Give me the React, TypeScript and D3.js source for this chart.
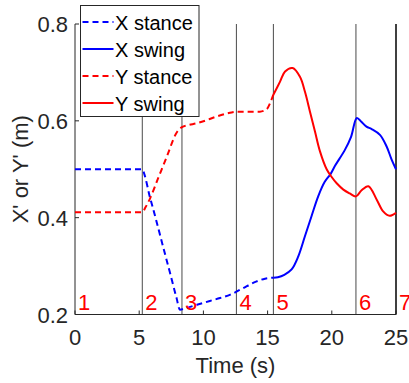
import { useEffect, useRef } from 'react'
import * as d3 from 'd3'

// event times (s) and phase numbers
const eventTimes = [0, 5.24, 8.33, 12.57, 15.45, 21.88, 25]
const phaseLabels = ['1', '2', '3', '4', '5', '6', '7']

const xTicks = [0, 5, 10, 15, 20, 25]
const yTicks = [0.2, 0.4, 0.6, 0.8]

// X' stance / swing
const xStanceTime = [0, 2, 4, 5.24, 5.4, 5.8, 6.25, 6.85, 7.4, 7.9, 8.17, 8.6, 9.5, 10.5, 11.3, 12.1, 13, 14.1, 14.8, 15.45]
const xStanceVal = [0.5, 0.5, 0.5, 0.5, 0.49, 0.446, 0.402, 0.341, 0.286, 0.235, 0.21, 0.213, 0.22, 0.228, 0.234, 0.241, 0.253, 0.268, 0.274, 0.276]
const xSwingTime = [15.45, 15.8, 16.3, 16.87, 17.39, 17.9, 18.42, 18.94, 19.45, 19.9, 20.25, 21.02, 21.5, 21.95, 22.3, 22.7, 23.1, 23.75, 24.27, 24.66, 25]
const xSwingVal = [0.276, 0.277, 0.282, 0.293, 0.32, 0.361, 0.403, 0.444, 0.474, 0.49, 0.507, 0.54, 0.567, 0.606, 0.598, 0.588, 0.583, 0.571, 0.547, 0.52, 0.5]

// Y' stance / swing
const yStanceTime = [0, 2, 4, 5.24, 5.5, 5.85, 6.5, 7.15, 7.9, 8.33, 8.8, 9.47, 10.2, 11.03, 11.8, 12.59, 13.5, 14.4, 14.93, 15.2, 15.45]
const yStanceVal = [0.411, 0.411, 0.411, 0.411, 0.422, 0.44, 0.483, 0.526, 0.575, 0.587, 0.591, 0.595, 0.601, 0.609, 0.615, 0.619, 0.619, 0.619, 0.624, 0.637, 0.654]
const ySwingTime = [15.45, 15.97, 16.36, 16.95, 17.52, 17.91, 18.3, 18.69, 19.08, 19.6, 19.99, 20.38, 20.9, 21.4, 21.88, 22.3, 22.85, 23.5, 24.0, 24.5, 25]
const ySwingVal = [0.654, 0.681, 0.702, 0.709, 0.691, 0.66, 0.619, 0.578, 0.537, 0.5, 0.484, 0.471, 0.458, 0.45, 0.444, 0.456, 0.465, 0.437, 0.413, 0.404, 0.41]

const seriesNames = ['X stance', 'X swing', 'Y stance', 'Y swing']

const FONT = 'Liberation Sans, Arial, Helvetica, sans-serif'
const AXIS = '#262626'

export default function App() {
  const svgRef = useRef<SVGSVGElement>(null)

  useEffect(() => {
    const width = 409
    const height = 383
    const margin = { top: 24, right: 13, bottom: 68, left: 75 }

    const svg = d3.select(svgRef.current)
    svg.selectAll('*').remove()
    svg.attr('width', width).attr('height', height)

    const x = d3.scaleLinear().domain([0, 25]).range([margin.left, width - margin.right])
    const y = d3.scaleLinear().domain([0.2, 0.8]).range([height - margin.bottom - 0.5, margin.top])

    const series = [
      { name: seriesNames[0], t: xStanceTime, v: xStanceVal, color: '#0000ff', dash: '6,4' },
      { name: seriesNames[1], t: xSwingTime, v: xSwingVal, color: '#0000ff', dash: null },
      { name: seriesNames[2], t: yStanceTime, v: yStanceVal, color: '#ff0000', dash: '6,4' },
      { name: seriesNames[3], t: ySwingTime, v: ySwingVal, color: '#ff0000', dash: null },
    ]

    // vertical event lines
    eventTimes.slice(1).forEach((t, i, arr) => {
      const last = i === arr.length - 1
      svg.append('line')
        .attr('x1', x(t)).attr('x2', x(t))
        .attr('y1', y(0.8)).attr('y2', y(0.2))
        .attr('stroke', last ? '#000' : '#4a4a4a')
        .attr('stroke-width', last ? 1.5 : 1)
    })

    // axes lines
    svg.append('line')
      .attr('x1', x(0)).attr('x2', x(0)).attr('y1', y(0.8)).attr('y2', y(0.2))
      .attr('stroke', AXIS).attr('stroke-width', 1)
    svg.append('line')
      .attr('x1', x(0)).attr('x2', x(25)).attr('y1', y(0.2)).attr('y2', y(0.2))
      .attr('stroke', AXIS).attr('stroke-width', 1)

    // ticks
    xTicks.forEach(t => {
      svg.append('line')
        .attr('x1', x(t)).attr('x2', x(t)).attr('y1', y(0.2)).attr('y2', y(0.2) - 4)
        .attr('stroke', AXIS)
      svg.append('text')
        .attr('x', x(t)).attr('y', y(0.2) + 30)
        .attr('text-anchor', 'middle')
        .attr('fill', AXIS)
        .style('font-family', FONT).style('font-size', '22px')
        .text(String(t))
    })
    yTicks.forEach(v => {
      svg.append('line')
        .attr('x1', x(0)).attr('x2', x(0) + 4).attr('y1', y(v)).attr('y2', y(v))
        .attr('stroke', AXIS)
      svg.append('text')
        .attr('x', x(0) - 7).attr('y', y(v) + 8)
        .attr('text-anchor', 'end')
        .attr('fill', AXIS)
        .style('font-family', FONT).style('font-size', '22px')
        .text(d3.format('.1f')(v))
    })

    // axis labels
    svg.append('text')
      .attr('x', (x(0) + x(25)) / 2).attr('y', 373)
      .attr('text-anchor', 'middle')
      .attr('fill', AXIS)
      .style('font-family', FONT).style('font-size', '22px')
      .text('Time (s)')
    svg.append('text')
      .attr('transform', `translate(28,${(y(0.8) + y(0.2)) / 2}) rotate(-90)`)
      .attr('text-anchor', 'middle')
      .attr('fill', AXIS)
      .style('font-family', FONT).style('font-size', '22px')
      .text("X' or Y' (m)")

    // data lines: stance with monotone (keeps the kinks), swing smooth
    const stanceLine = d3.line<[number, number]>()
      .x(d => x(d[0]))
      .y(d => y(d[1]))
      .curve(d3.curveMonotoneX)
    const swingLine = d3.line<[number, number]>()
      .x(d => x(d[0]))
      .y(d => y(d[1]))
      .curve(d3.curveCatmullRom.alpha(0.5))

    series.forEach(s => {
      const pts = s.t.map((t, i) => [t, s.v[i]] as [number, number])
      const p = svg.append('path')
        .attr('d', (s.dash ? stanceLine : swingLine)(pts))
        .attr('fill', 'none')
        .attr('stroke', s.color)
        .attr('stroke-width', 2)
      if (s.dash) p.attr('stroke-dasharray', s.dash)
    })

    // phase numbers
    eventTimes.forEach((t, i) => {
      svg.append('text')
        .attr('x', x(t) + 3).attr('y', 310)
        .attr('fill', '#ff0000')
        .style('font-family', FONT).style('font-size', '22px')
        .text(phaseLabels[i])
    })

    // legend
    const lg = svg.append('g').attr('transform', 'translate(80.5,5.5)')
    lg.append('rect')
      .attr('width', 118.5).attr('height', 111)
      .attr('fill', '#fff').attr('stroke', AXIS).attr('stroke-width', 1)
    series.forEach((s, i) => {
      const cy = 16.5 + i * 27
      const l = lg.append('line')
        .attr('x1', 2).attr('x2', 33).attr('y1', cy).attr('y2', cy)
        .attr('stroke', s.color).attr('stroke-width', 2)
      if (s.dash) l.attr('stroke-dasharray', s.dash)
      lg.append('text')
        .attr('x', 34.5).attr('y', cy + 7.5)
        .attr('fill', '#000')
        .style('font-family', FONT).style('font-size', '20px')
        .text(s.name)
    })
  }, [])

  return (
    <div style={{ position: 'absolute', left: 0, top: 0, width: 409, height: 383, background: '#fff' }}>
      <svg ref={svgRef} style={{ display: 'block' }}></svg>
    </div>
  )
}
